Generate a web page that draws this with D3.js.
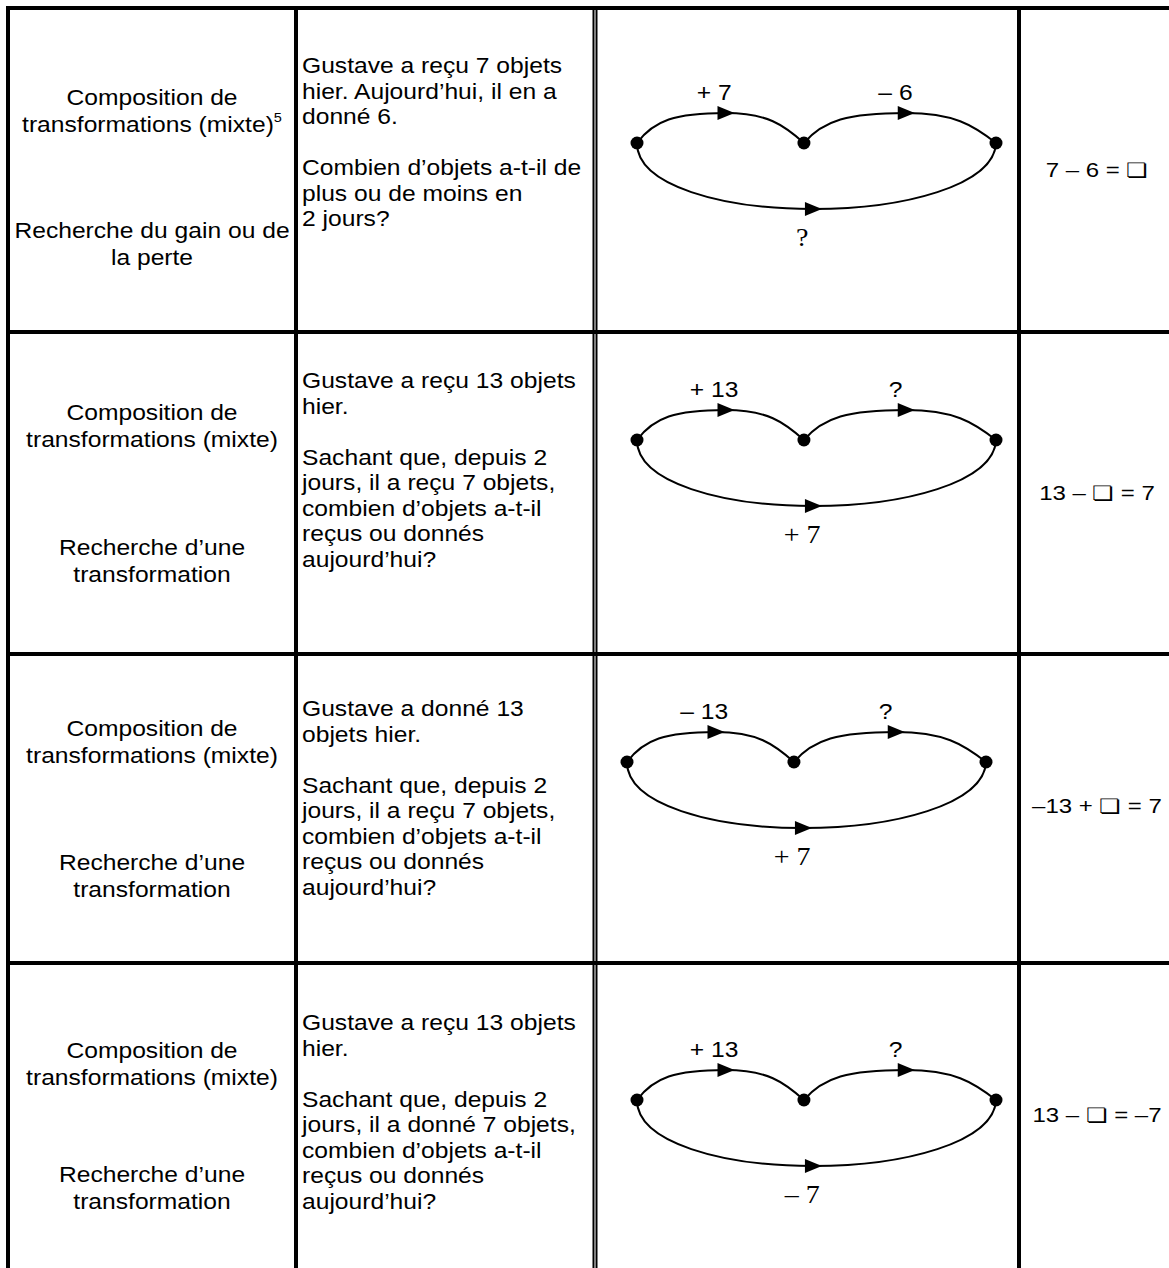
<!DOCTYPE html>
<html>
<head>
<meta charset="utf-8">
<script src="https://cdn.jsdelivr.net/npm/d3@7"></script>
<style>
  html, body { margin: 0; padding: 0; background: #fff; }
  svg { display: block; }
</style>
</head>
<body>
<div id="graf"></div>
<script>
// I. Datos
const titulo = ['Composition de', 'transformations (mixte)']
const notas = ['5', '', '', '']
const busquedas = [
  ['Recherche du gain ou de', 'la perte'],
  ['Recherche d’une', 'transformation'],
  ['Recherche d’une', 'transformation'],
  ['Recherche d’une', 'transformation']
]
const enunciados = [
  [['Gustave a reçu 7 objets', 'hier. Aujourd’hui, il en a', 'donné 6.'],
   ['Combien d’objets a-t-il de', 'plus ou de moins en', '2 jours?']],
  [['Gustave a reçu 13 objets', 'hier.'],
   ['Sachant que, depuis 2', 'jours, il a reçu 7 objets,', 'combien d’objets a-t-il', 'reçus ou donnés', 'aujourd’hui?']],
  [['Gustave a donné 13', 'objets hier.'],
   ['Sachant que, depuis 2', 'jours, il a reçu 7 objets,', 'combien d’objets a-t-il', 'reçus ou donnés', 'aujourd’hui?']],
  [['Gustave a reçu 13 objets', 'hier.'],
   ['Sachant que, depuis 2', 'jours, il a donné 7 objets,', 'combien d’objets a-t-il', 'reçus ou donnés', 'aujourd’hui?']]
]
const primera = ['+ 7', '+ 13', '– 13', '+ 13']
const segunda = ['– 6', '?', '?', '?']
const compuesta = ['?', '+ 7', '+ 7', '– 7']
const ecuaciones = ['7 – 6 = ❏', '13 – ❏ = 7', '–13 + ❏ = 7', '13 – ❏ = –7']

// II. Configuración
const ancho_total = 1169
const alto_total = 1268

const svg = d3.select('#graf').append('svg')
  .attr('width', ancho_total)
  .attr('height', alto_total)

svg.append('rect')
  .attr('width', ancho_total)
  .attr('height', alto_total)
  .attr('fill', '#fff')

const fuente = "'Liberation Sans', Arial, sans-serif"
const serif = "'Liberation Serif', 'Times New Roman', serif"

// filas y columnas de la tabla
const lineasFila = [8, 332, 654, 963]
const lineasCol = [8, 296, 1019]
const dobleCol = [593.5, 596.5]

// anclas verticales de cada fila
const col1Arriba = [97, 412, 728, 1050]
const col1Abajo = [230, 547, 862, 1174]
const col2Arriba = [65, 380, 708, 1022]
const nodoY = [143, 440, 762, 1100]
const desplaz = [0, 0, -10, 0]
const ecuY = [170, 493, 806, 1115]
const ecuX = 1097

const interlinea = 27
const interlinea2 = 25.5
const parrafo = 51

function texto(g, x, y, t, size, anchor, family, sx) {
  return g.append('text')
    .attr('transform', `translate(${x}, ${y}) scale(${sx || 1.12}, 1)`)
    .attr('text-anchor', anchor)
    .style('font-family', family || fuente)
    .style('font-size', size + 'px')
    .attr('fill', '#000')
    .text(t)
}

// bordes
const bordes = svg.append('g')
lineasFila.forEach(y0 => {
  bordes.append('line')
    .attr('x1', 6).attr('x2', ancho_total)
    .attr('y1', y0).attr('y2', y0)
    .attr('stroke', '#000').attr('stroke-width', 4)
})
lineasCol.forEach(x0 => {
  bordes.append('line')
    .attr('x1', x0).attr('x2', x0)
    .attr('y1', 6).attr('y2', alto_total)
    .attr('stroke', '#000').attr('stroke-width', 4)
})
dobleCol.forEach(x0 => {
  bordes.append('line')
    .attr('x1', x0).attr('x2', x0)
    .attr('y1', 6).attr('y2', alto_total)
    .attr('stroke', '#000').attr('stroke-width', 2)
})

const cx1 = (lineasCol[0] + lineasCol[1]) / 2
const x2 = 302

busquedas.forEach((busq, i) => {
  const g = svg.append('g')
  const b = 8

  // columna 1
  titulo.forEach((t, k) => {
    const tx = texto(g, cx1, col1Arriba[i] + k * interlinea + b, t, 22, 'middle')
    if (k == 1 && notas[i]) {
      tx.append('tspan')
        .attr('dy', -10)
        .style('font-size', '13px')
        .text(notas[i])
    }
  })
  busq.forEach((t, k) => {
    texto(g, cx1, col1Abajo[i] + k * interlinea + b, t, 22, 'middle')
  })

  // columna 2
  let yy = col2Arriba[i]
  enunciados[i].forEach((par, p) => {
    if (p > 0) yy += parrafo - interlinea2
    par.forEach(t => {
      texto(g, x2, yy + b, t, 22, 'start')
      yy += interlinea2
    })
  })

  // columna 3: diagrama
  const ny = nodoY[i]
  const x = d3.scaleLinear().domain([0, 1]).range([637 + desplaz[i], 996 + desplaz[i]])
  const y = d3.scaleLinear().domain([0, 1]).range([ny, ny - 30])
  const nodos = [0, 0.465, 1]

  const arcos = g.append('g')
    .attr('fill', 'none')
    .attr('stroke', '#000')
    .attr('stroke-width', 2)

  const puntas = []

  function arcoSup(a, c) {
    const A = x(a), B = x(c), w = B - A
    const yb = y(0), yp = y(1)
    const px = A + w * 0.53
    const p = d3.path()
    p.moveTo(A, yb)
    p.bezierCurveTo(A + w * 0.1, yb - (yb - yp) * 0.75, px - w * 0.3, yp, px, yp)
    p.bezierCurveTo(px + w * 0.25, yp, B - w * 0.12, yb - (yb - yp) * 0.6, B, yb)
    arcos.append('path').attr('d', p.toString())
    puntas.push([px, yp])
  }

  function arcoInf() {
    const A = x(0), B = x(1), w = B - A
    const yb = y(0), yl = y(-2.2)
    const pm = A + w * 0.49
    const p = d3.path()
    p.moveTo(A, yb)
    p.bezierCurveTo(A, yb + (yl - yb) * 0.65, pm - w * 0.25, yl, pm, yl)
    p.bezierCurveTo(pm + w * 0.25, yl, B - 2, yb + (yl - yb) * 0.65, B, yb)
    arcos.append('path').attr('d', p.toString())
    puntas.push([pm, yl])
  }

  arcoSup(nodos[0], nodos[1])
  arcoSup(nodos[1], nodos[2])
  arcoInf()

  g.selectAll('path.punta')
    .data(puntas)
    .enter()
    .append('path')
      .attr('class', 'punta')
      .attr('d', d => `M${d[0] - 8},${d[1] - 7}L${d[0] + 9},${d[1]}L${d[0] - 8},${d[1] + 7}Z`)
      .attr('fill', '#000')

  g.selectAll('circle')
    .data(nodos)
    .enter()
    .append('circle')
      .attr('cx', d => x(d))
      .attr('cy', y(0))
      .attr('r', 6.5)
      .attr('fill', '#000')

  texto(g, x(0.215), y(0) - 43, primera[i], 22, 'middle')
  texto(g, x(0.72), y(0) - 43, segunda[i], 22, 'middle')
  texto(g, x(0.46), y(0) + 103, compuesta[i], 25, 'middle', serif)

  // columna 4
  texto(g, ecuX, ecuY[i] + 7, ecuaciones[i], 20, 'middle', fuente, 1.2)
})
</script>
</body>
</html>
